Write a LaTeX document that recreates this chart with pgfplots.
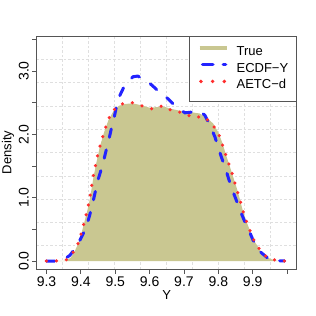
\documentclass[border=0pt]{standalone}
\usepackage{fontspec}
\setmainfont{Liberation Sans}
\usepackage{pgfplots}
\pgfplotsset{compat=1.18}
\definecolor{olivec}{RGB}{201,199,145}
\definecolor{bluec}{RGB}{35,35,255}
\definecolor{redc}{RGB}{255,45,45}
\definecolor{boxc}{RGB}{85,85,85}
\begin{document}
\begin{tikzpicture}
\useasboundingbox (0,0) rectangle (316pt,316pt);
\begin{axis}[
  at={(36.7pt,47pt)}, anchor=south west,
  scale only axis, width=260pt, height=233pt,
  xmin=9.2715, xmax=10.028, ymin=-0.1263, ymax=3.553,
  axis line style={boxc, line width=0.9pt},
  tick style={boxc, line width=0.9pt},
  tick align=outside, major tick length=4.5pt,
  xtick pos=bottom, ytick pos=left,
  xtick={9.3,9.4,9.5,9.6,9.7,9.8,9.9},
  extra x ticks={10.0}, extra x tick labels={},
  ytick={0,1,2,3},
  extra y ticks={0.5,1.5,2.5,3.5}, extra y tick labels={},
  extra tick style={grid=none},
  minor xtick={9.3472,9.4228,9.4985,9.5741,9.6498,9.7254,9.8011,9.8767,9.9524},
  minor ytick={0.2416,0.6095,0.9774,1.3453,1.7132,2.0811,2.4490,2.8169,3.1848},
  minor tick length=0pt,
  xminorgrids=true, yminorgrids=true,
  minor grid style={gray!25, dash pattern=on 2.5pt off 2pt, line width=0.6pt},
  /pgf/number format/fixed, /pgf/number format/fixed zerofill,
  /pgf/number format/precision=1, /pgf/number format/assume math mode=true,
  tick label style={font=\fontsize{14}{16}\selectfont},
  yticklabel style={rotate=90, anchor=south},
  xlabel={Y}, ylabel={Density},
  label style={font=\fontsize{13}{15}\selectfont},
  xlabel style={at={(axis description cs:0.5,-0.079)}, anchor=north},
  ylabel style={at={(axis description cs:-0.0735,0.5)}, anchor=south},
  legend cell align=left,
  legend style={at={(rel axis cs:1,1)}, anchor=north east, draw=boxc, line width=0.9pt,
    fill=white, inner xsep=8pt, inner ysep=7.6pt,
    font=\fontsize{13}{15}\selectfont,
    nodes={inner xsep=0pt, inner ysep=2pt, text height=9.5pt, text depth=2.5pt},
    column sep=8pt, row sep=0.7pt},
]
\addplot[draw=none, fill=olivec,
  legend image code/.code={\draw[olivec, line width=4pt] (0pt,4pt) -- (27pt,4pt);}]
coordinates {(9.33,0) (9.357,0.005) (9.37,0.05) (9.38,0.13) (9.392,0.27) (9.402,0.44)
 (9.41,0.61) (9.419,0.80) (9.427,1.0) (9.436,1.30) (9.445,1.55) (9.455,1.80) (9.468,2.04)
 (9.48,2.22) (9.495,2.37) (9.51,2.45) (9.53,2.48) (9.55,2.49) (9.575,2.46) (9.60,2.42)
 (9.62,2.43) (9.64,2.44) (9.665,2.40) (9.69,2.37) (9.72,2.35) (9.745,2.33) (9.765,2.27)
 (9.785,2.17) (9.80,2.03) (9.812,1.86) (9.822,1.68) (9.833,1.50) (9.843,1.33) (9.853,1.16)
 (9.862,0.99) (9.87,0.82) (9.88,0.65) (9.892,0.48) (9.904,0.32) (9.923,0.16) (9.945,0.05)
 (9.96,0.015) (9.975,0)};
\addlegendentry{True}
\addplot[bluec, line width=3pt, line cap=round, dash pattern=on 8.5pt off 13pt,
  legend image code/.code={\draw[bluec, line width=3.5pt, line cap=round, dash pattern=on 10.3pt off 10.4pt] (3pt,4pt) -- (26pt,4pt);}]
coordinates {(9.30,0) (9.335,0) (9.35,0.02) (9.368,0.09) (9.388,0.23) (9.402,0.38)
 (9.415,0.52) (9.426,0.73) (9.434,0.90) (9.443,1.12) (9.451,1.30) (9.46,1.46) (9.467,1.60)
 (9.475,1.78) (9.482,1.93) (9.49,2.12) (9.497,2.27) (9.504,2.45) (9.514,2.62) (9.528,2.78)
 (9.552,2.91) (9.565,2.92) (9.581,2.88) (9.606,2.78) (9.63,2.66) (9.654,2.56) (9.678,2.43)
 (9.703,2.34) (9.72,2.35) (9.737,2.37) (9.75,2.35) (9.761,2.30) (9.775,2.15) (9.79,1.96)
 (9.80,1.79) (9.809,1.64) (9.822,1.44) (9.831,1.28) (9.843,1.09) (9.853,0.95) (9.867,0.75)
 (9.877,0.62) (9.89,0.47) (9.901,0.33) (9.921,0.15) (9.945,0.04) (9.965,0.005) (9.993,0)};
\addlegendentry{ECDF−Y}
\addplot[redc, line width=3.5pt, line cap=round, dash pattern=on 0pt off 10pt,
  legend image code/.code={\draw[redc, line width=3.8pt, line cap=round, dash pattern=on 0pt off 11.7pt] (1.3pt,4pt) -- (27pt,4pt);}]
coordinates {(9.30,0) (9.321,0) (9.345,0.005) (9.358,0.02) (9.378,0.14) (9.392,0.28)
 (9.402,0.45) (9.41,0.62) (9.419,0.81) (9.426,1.0) (9.436,1.34) (9.443,1.52) (9.449,1.68)
 (9.458,1.86) (9.468,2.04) (9.478,2.21) (9.492,2.37) (9.517,2.48) (9.549,2.50) (9.578,2.45)
 (9.608,2.40) (9.637,2.45) (9.667,2.37) (9.698,2.34) (9.725,2.27) (9.758,2.28) (9.782,2.16)
 (9.80,2.02) (9.811,1.85) (9.822,1.67) (9.833,1.50) (9.843,1.33) (9.852,1.16) (9.862,0.99)
 (9.87,0.82) (9.88,0.65) (9.892,0.48) (9.904,0.32) (9.923,0.16) (9.945,0.04) (9.977,0)
 (10.01,0)};
\addlegendentry{AETC−d}
\end{axis}
\end{tikzpicture}
\end{document}
